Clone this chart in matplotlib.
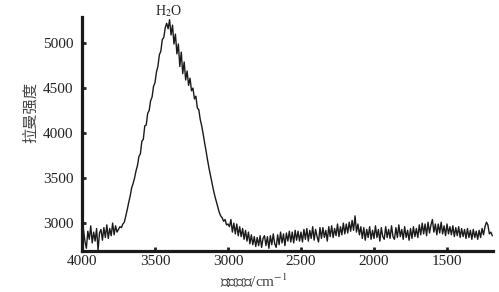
import numpy as np
import matplotlib
matplotlib.use("Agg")
import matplotlib.pyplot as plt

plt.rcParams['font.family'] = ['Liberation Serif', 'Noto Sans CJK SC']
plt.rcParams['mathtext.fontset'] = 'stix'

# Raman shift grid (cm^-1), sampled every 10 cm^-1 from 4000 down to 1190
shift = np.arange(4000, 1185, -10)

baseline_left = [2760, 2930, 2800, 2720, 2910, 2820, 2970, 2780, 2900, 2800, 2940, 2700, 2890,
                 2930, 2810, 2950, 2840, 2980, 2830, 2940, 2860, 3000, 2870, 2970, 2900]
onset = [2930, 2960, 2950, 2990, 3010, 3080, 3150, 3230, 3300, 3390, 3440]
rise = [3500, 3580, 3640, 3740, 3770, 3910, 3930, 4080, 4090, 4220, 4250, 4360, 4400, 4520,
        4560, 4680, 4740, 4870, 4910, 5040, 5060, 5170, 5220]
peak = [5160, 5260, 5090, 5200, 4990, 5100, 4880, 4990, 4740, 4900, 4660, 4790, 4590, 4690,
        4530, 4610, 4470, 4500, 4380, 4410, 4280, 4260]
fall = [4150, 4080, 3990, 3890, 3800, 3700, 3610, 3530, 3450, 3370, 3300, 3240, 3180, 3120,
        3080, 3060, 3020, 3040, 2980, 2990]
trough = [2960, 3040, 2900, 3000, 2880, 2990, 2860, 2960, 2850, 2940, 2820, 2920, 2800, 2900,
          2770, 2870, 2760, 2850, 2740, 2840, 2750, 2860, 2730, 2830, 2860, 2750, 2850, 2720,
          2860, 2760, 2880, 2770, 2730, 2870, 2760, 2900, 2780, 2880, 2750, 2890, 2800, 2910,
          2790, 2900, 2780, 2920, 2810, 2910, 2800, 2900]
mid1 = [2790, 2930, 2820, 2940, 2800, 2920, 2830, 2960, 2810, 2930, 2850, 2790, 2950, 2830,
        2950, 2840, 2920, 2800, 2960, 2850, 2970, 2840, 2940, 2860, 2990, 2850, 2960, 2870,
        3000, 2880]
bump = [2990, 2890, 3010, 2910, 3030, 2920, 3080, 2900, 2990, 2870]
mid2 = [2960, 2830, 2950, 2810, 2930, 2840, 2960, 2820, 2920, 2830, 2970, 2840, 2930, 2800,
        2950, 2850, 2820, 2960, 2840, 2930, 2830, 2970, 2850, 2820, 2950, 2840, 2980, 2850,
        2930, 2820, 2960, 2840, 2920, 2810, 2940, 2830, 2960, 2850, 2940, 2840]
mid3 = [2980, 2870, 3000, 2880, 2990, 2860, 3010, 2890, 2980, 3040, 2900, 2990, 2870, 2990,
        2890, 3010, 2880, 2970, 2860, 2990, 2880, 2960]
tail = [2870, 2970, 2850, 2950, 2860, 2960, 2840, 2940, 2850, 2930, 2830, 2940, 2840, 2920,
        2820, 2930, 2840, 2910, 2820, 2920, 2840, 2940, 2870, 2960, 3010, 2980, 2880, 2900, 2860]

intensity = (baseline_left + onset + rise + peak + fall + trough + mid1 + bump + mid2 + mid3 + tail)

xticks = [4000, 3500, 3000, 2500, 2000, 1500]
yticks = [3000, 3500, 4000, 4500, 5000]

fig = plt.figure(figsize=(4.99, 2.92), dpi=100)
ax = fig.add_axes([0.1643, 0.1404, 0.8237, 0.8014])
ax.plot(shift[:len(intensity)], intensity, color='#1a1a1a', linewidth=1.0)

ax.set_xlim(4000, 1185)
ax.set_ylim(2690, 5290)
ax.set_xticks(xticks)
ax.set_yticks(yticks)
ax.tick_params(axis='both', direction='in', length=3, width=2, labelsize=11, colors='#222222')
ax.tick_params(axis='y', pad=6)
ax.tick_params(axis='x', pad=3)

for s in ['top', 'right']:
    ax.spines[s].set_visible(False)
for s in ['left', 'bottom']:
    ax.spines[s].set_linewidth(2.3)
    ax.spines[s].set_color('#1a1a1a')

ax.set_ylabel('拉曼强度', fontsize=11, color='#444444', va='center')
ax.yaxis.set_label_coords(-0.124, 0.594)
ax.set_xlabel('拉曼位移/cm$^{-1}$', fontsize=11, color='#444444', va='center')
ax.xaxis.set_label_coords(0.419, -0.128)

ax.text(3410, 5305, 'H$_2$O', fontsize=10, ha='center', va='baseline', color='#222222', clip_on=False)

fig.savefig('out.png', dpi=100)
